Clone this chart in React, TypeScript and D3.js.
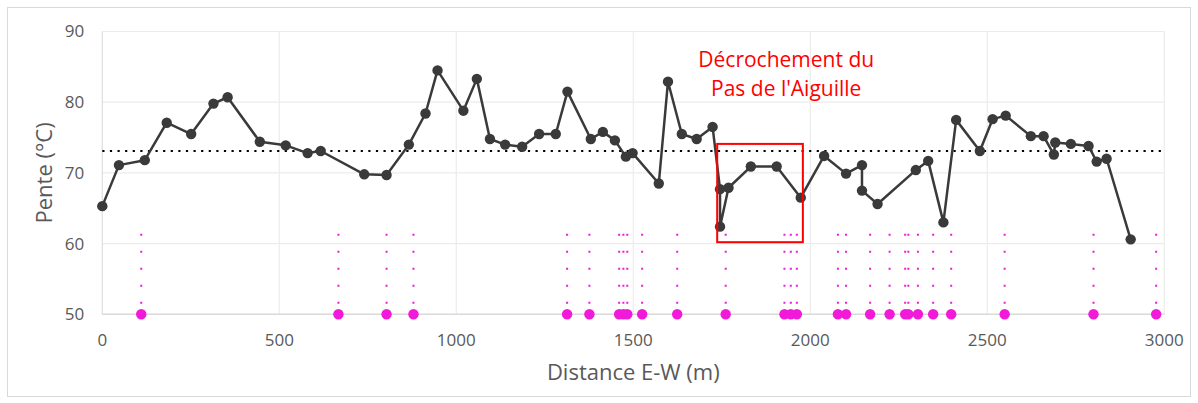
import * as d3 from 'd3';

// profile points (distance E-W in m, pente)
const distances = [
  0, 47, 120, 182, 251, 314, 354, 445, 518, 580, 617, 740, 803, 866, 913, 947, 1020, 1058,
  1095, 1138, 1186, 1234, 1281, 1314, 1380, 1414, 1448, 1479, 1498, 1572, 1598, 1637, 1679,
  1724, 1745, 1745, 1769, 1832, 1905, 1973, 2039, 2101, 2146, 2146, 2190, 2298, 2333, 2376,
  2412, 2479, 2515, 2552, 2623, 2659, 2688, 2692, 2736, 2786, 2809, 2837, 2905,
];
const pente = [
  65.3, 71.1, 71.8, 77.1, 75.5, 79.8, 80.7, 74.4, 73.9, 72.8, 73.1, 69.8, 69.7, 74.0, 78.4,
  84.5, 78.8, 83.3, 74.8, 74.0, 73.7, 75.5, 75.5, 81.5, 74.8, 75.8, 74.6, 72.3, 72.8, 68.5,
  82.9, 75.5, 74.8, 76.5, 67.7, 62.4, 67.9, 70.9, 70.9, 66.5, 72.4, 69.9, 71.1, 67.5, 65.6,
  70.4, 71.7, 63.0, 77.5, 73.1, 77.6, 78.1, 75.2, 75.2, 72.6, 74.3, 74.1, 73.8, 71.6, 72.0,
  60.6,
];

// magenta markers along the bottom
const markerDistances = [
  110, 667, 803, 879, 1313, 1376, 1460, 1472, 1483, 1525, 1624, 1761, 1927, 1945, 1962, 2078,
  2101, 2169, 2224, 2268, 2277, 2304, 2347, 2398, 2549, 2800, 2977,
];
const markerBase = 50;
const markerTop = 61.4;

const threshold = 73.1;

const xTicks = [0, 500, 1000, 1500, 2000, 2500, 3000];
const yTicks = [50, 60, 70, 80, 90];

const boxX = [1737, 1979];
const boxY = [60.2, 74.1];
const noteLines = ['Décrochement du', "Pas de l'Aiguille"];
const noteX = 1932;
const noteY = [85.0, 80.9];

const W = 1198;
const H = 403;
const font = "'Open Sans', 'Noto Sans', sans-serif";

export default function App() {
  const x = d3.scaleLinear().domain([0, 3000]).range([102.3, 1164.3]);
  const y = d3.scaleLinear().domain([50, 90]).range([314.3, 31.5]);

  const pts: [number, number][] = distances.map((d, i) => [d, pente[i]]);
  const line = d3
    .line<[number, number]>()
    .x((d) => x(d[0]))
    .y((d) => y(d[1]));

  return (
    <svg
      width={W}
      height={H}
      style={{ position: 'absolute', left: 0, top: 0, background: '#fff' }}
    >
      <rect x={7.5} y={7.5} width={W - 15} height={H - 14} fill="#fff" stroke="#d9d9d9" />

      {/* grid */}
      {yTicks.slice(1).map((t) => (
        <line key={'gy' + t} x1={x(0)} x2={x(3000)} y1={y(t)} y2={y(t)} stroke="#ececec" strokeWidth={1.2} />
      ))}
      {xTicks.slice(1).map((t) => (
        <line key={'gx' + t} x1={x(t)} x2={x(t)} y1={y(90)} y2={y(50)} stroke="#ececec" strokeWidth={1.2} />
      ))}
      <line x1={x(0)} x2={x(0)} y1={y(90)} y2={y(50)} stroke="#dedede" strokeWidth={1.2} />
      <line x1={x(0)} x2={x(3000)} y1={y(50)} y2={y(50)} stroke="#d9d9d9" strokeWidth={1.5} />

      {/* tick labels */}
      {yTicks.map((t) => (
        <text key={'ty' + t} x={x(0) - 18} y={y(t)} dy="0.35em" textAnchor="end" fontFamily={font} fontSize={17} fill="#595959">
          {t}
        </text>
      ))}
      {xTicks.map((t) => (
        <text key={'tx' + t} x={x(t)} y={346} textAnchor="middle" fontFamily={font} fontSize={17} fill="#595959">
          {t}
        </text>
      ))}
      <text x={(x(0) + x(3000)) / 2} y={380} textAnchor="middle" fontFamily={font} fontSize={22} fill="#595959">
        Distance E-W (m)
      </text>
      <text
        transform={`translate(52, ${y(70)}) rotate(-90)`}
        textAnchor="middle"
        fontFamily={font}
        fontSize={22}
        fill="#595959"
      >
        Pente (°C)
      </text>

      {/* threshold */}
      <line
        x1={x(0)}
        x2={x(3000)}
        y1={y(threshold)}
        y2={y(threshold)}
        stroke="#000"
        strokeWidth={2.2}
        strokeDasharray="2.2 5.4"
      />

      {/* magenta markers with dotted bars */}
      {markerDistances.map((d, i) => (
        <line
          key={'mb' + i}
          x1={x(d)}
          x2={x(d)}
          y1={y(markerTop)}
          y2={y(markerBase)}
          stroke="#f01ad8"
          strokeWidth={2}
          strokeDasharray="2 15"
        />
      ))}
      {markerDistances.map((d, i) => (
        <circle key={'m' + i} cx={x(d)} cy={y(markerBase)} r={5.2} fill="#f01ad8" />
      ))}

      {/* profile */}
      <path d={line(pts) || ''} fill="none" stroke="#3a3a3a" strokeWidth={2.5} strokeLinejoin="round" />
      {pts.map((p, i) => (
        <circle key={'p' + i} cx={x(p[0])} cy={y(p[1])} r={5.2} fill="#3a3a3a" />
      ))}

      {/* annotation */}
      <rect
        x={x(boxX[0])}
        y={y(boxY[1])}
        width={x(boxX[1]) - x(boxX[0])}
        height={y(boxY[0]) - y(boxY[1])}
        fill="none"
        stroke="#ff0000"
        strokeWidth={2}
      />
      {noteLines.map((s, i) => (
        <text key={'n' + i} x={x(noteX)} y={y(noteY[i])} textAnchor="middle" fontFamily={font} fontSize={21} fill="#ff0000">
          {s}
        </text>
      ))}
    </svg>
  );
}
